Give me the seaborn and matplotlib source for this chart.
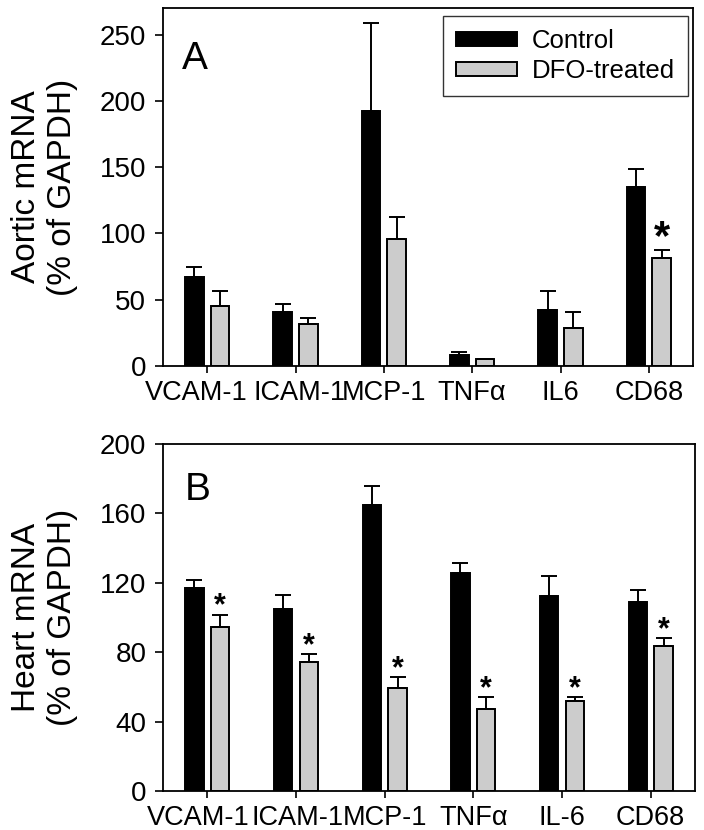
import numpy as np
import pandas as pd
import matplotlib
matplotlib.use("Agg")
import matplotlib.pyplot as plt
import matplotlib.transforms as mtransforms
import seaborn as sns
from matplotlib.patches import Patch

# ---- data ----
genes_a = ["VCAM-1", "ICAM-1", "MCP-1", "TNF\u03b1", "IL6", "CD68"]
ctrl_a = [67, 40.4, 192.3, 8.3, 42.2, 135]
ctrl_a_err = [7.5, 6.0, 66.2, 2.0, 14.3, 13.8]
dfo_a = [45.4, 31.6, 96.1, 5.0, 28.4, 81.6]
dfo_a_err = [11.1, 4.8, 16.3, 0.3, 12.0, 6.1]
sig_a = [False, False, False, False, False, True]

genes_b = ["VCAM-1", "ICAM-1", "MCP-1", "TNF\u03b1", "IL-6", "CD68"]
ctrl_b = [117.2, 104.9, 164.8, 125.5, 112.6, 108.8]
ctrl_b_err = [4.2, 8.1, 11.0, 5.9, 11.3, 7.1]
dfo_b = [94.7, 74.5, 59.2, 47.1, 52.0, 83.6]
dfo_b_err = [6.9, 4.5, 6.3, 6.9, 2.0, 4.4]
sig_b = [True, True, True, True, True, True]

groups = ["Control", "DFO-treated"]
colors = ["#000000", "#cccccc"]

sns.set_style("ticks")
plt.rcParams["font.family"] = ["Liberation Sans", "DejaVu Sans"]
plt.rcParams["text.color"] = "black"
plt.rcParams["axes.labelcolor"] = "black"
plt.rcParams["xtick.color"] = "black"
plt.rcParams["ytick.color"] = "black"

fig = plt.figure(figsize=(7.04, 8.30), dpi=100)
W, H = 704, 830


def make_ax(l, r, t, b):
    return fig.add_axes([l / W, 1 - b / H, (r - l) / W, (b - t) / H])


def panel(ax, genes, ctrl, ctrl_err, dfo, dfo_err, sig, ylim, yticks, ylabel,
          letter, letter_pos, star_size, star_off, label_shifts):
    df = pd.DataFrame({
        "gene": genes * 2,
        "group": [groups[0]] * len(genes) + [groups[1]] * len(genes),
        "value": list(ctrl) + list(dfo),
    })
    sns.barplot(data=df, x="gene", y="value", hue="group", order=genes,
                hue_order=groups, palette=colors, edgecolor="black",
                linewidth=1.4, width=0.58, gap=0.28, errorbar=None,
                legend=False, ax=ax)
    for cont, errs in zip(ax.containers[:2], [ctrl_err, dfo_err]):
        for p, e in zip(cont.patches, errs):
            xc = p.get_x() + p.get_width() / 2
            h = p.get_height()
            ax.errorbar([xc], [h], yerr=[[0], [e]], fmt="none", ecolor="black",
                        elinewidth=1.4, capsize=5.8, capthick=1.4, zorder=1)
    for p, e, s in zip(ax.containers[1].patches, dfo_err, sig):
        if s:
            xc = p.get_x() + p.get_width() / 2
            ax.annotate("*", (xc, p.get_height() + e), xytext=(0, star_off),
                        textcoords="offset points", ha="center", va="bottom",
                        fontsize=star_size, fontweight="bold", color="black")
    ax.set_xlim(-0.5, len(genes) - 0.5)
    ax.set_ylim(*ylim)
    ax.set_yticks(yticks)
    ax.set_xlabel("")
    ax.set_ylabel(ylabel, fontsize=24, linespacing=1.2, color="black")
    ax.yaxis.set_label_coords(-0.16, 0.5)
    for s in ax.spines.values():
        s.set_visible(True)
        s.set_linewidth(1.3)
        s.set_color("black")
    ax.tick_params(axis="y", labelsize=20, length=6, width=1.2, pad=6,
                   colors="black", labelcolor="black")
    ax.tick_params(axis="x", labelsize=19.5, length=5, width=1.2, pad=5,
                   colors="black", labelcolor="black")
    for lab, dx in zip(ax.get_xticklabels(), label_shifts):
        lab.set_transform(lab.get_transform() +
                          mtransforms.ScaledTranslation(dx / 100, 0, fig.dpi_scale_trans))
    ax.text(letter_pos[0], letter_pos[1], letter, transform=ax.transAxes,
            fontsize=28, ha="left", va="top", color="black")


axA = make_ax(163, 693, 8, 366)
panel(axA, genes_a, ctrl_a, ctrl_a_err, dfo_a, dfo_a_err, sig_a,
      (0, 270), [0, 50, 100, 150, 200, 250],
      "Aortic mRNA\n(% of GAPDH)", "A", (0.035, 0.908), 30, -6,
      [-11, 4, 0, 0, 0, 0])
handles = [Patch(facecolor=c, edgecolor="black", linewidth=1.4) for c in colors]
leg = axA.legend(handles, groups, loc="upper right",
                 bbox_to_anchor=(1 - 5 / 530, 1 - 8 / 358), borderaxespad=0,
                 fontsize=18.5, frameon=True, fancybox=False, edgecolor="black",
                 handlelength=2.35, handleheight=0.45, handletextpad=0.6,
                 labelspacing=0.25, borderpad=0.5, labelcolor="black")
leg.get_frame().set_linewidth(1.0)

axB = make_ax(163, 695, 444, 791)
panel(axB, genes_b, ctrl_b, ctrl_b_err, dfo_b, dfo_b_err, sig_b,
      (0, 200), [0, 40, 80, 120, 160, 200],
      "Heart mRNA\n(% of GAPDH)", "B", (0.04, 0.92), 22, -5,
      [-9, 2, 0, 0, 0, 0])

fig.savefig("out.png", dpi=100)
